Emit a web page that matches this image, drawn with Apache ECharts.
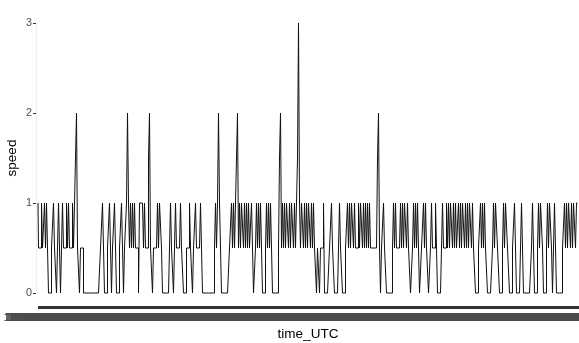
<!DOCTYPE html>
<html>
<head>
<meta charset="utf-8">
<script src="https://cdn.jsdelivr.net/npm/echarts@6/dist/echarts.min.js"></script>
<style>
  html, body { margin: 0; padding: 0; background: #fff; }
  #chart { width: 579px; height: 343px; }
</style>
</head>
<body>
<div id="chart"></div>
<script>
// speed readings left to right (one reading per pixel column)
const speedA = [
  1, 0.5, 0.5, 0.5, 1, 0.5, 0.5, 1, 0.5, 1,
  0.5, 0, 0, 0, 0.5, 0.5, 1, 0.5, 0.5, 0,
  0.5, 1, 0.5, 0, 0.5, 1, 0.5, 0.5, 0.5, 1,
  0.5, 1, 0.5, 0.5, 0.5, 1, 0.5, 0.5, 1.5, 2,
  0.5, 0.5, 0, 0.5, 0.5, 0.5, 0, 0, 0, 0,
  0, 0, 0, 0, 0, 0, 0, 0, 0, 0,
  0, 0, 0, 0.5, 0.5, 1, 0.5, 0, 0, 0,
  0.5, 0.5, 1, 0.5, 0, 0.5, 0.5, 1, 0.5, 0,
  0, 0, 0.5, 0.5, 1, 0.5, 0, 0.5, 0.5, 1,
  2, 1, 0.5, 1, 0.5, 1, 0.5, 1, 0.5, 0.5,
  0.5, 0, 1, 1, 1, 1, 0.5, 1, 0.5, 0.5,
  0.5, 1.5, 2, 0.5, 0.5, 0, 0.5, 0.5, 0.5, 0.5,
  1, 0.5, 1, 1, 0.5, 0, 0, 0, 0, 0,
  0, 0, 0.5, 1, 0.5, 0.5, 0, 0.5, 1, 0.5
];
const speedB = [
  0.5, 0.5, 0.5, 1, 0.5, 0.5, 0, 0, 0, 0.5,
  0.5, 0.5, 1, 0.5, 0.5, 0, 0.5, 0.5, 1, 0.5,
  0.5, 0.5, 0.5, 1, 0.5, 0, 0, 0, 0, 0,
  0, 0, 0, 0, 0, 0, 0, 0.5, 1, 0.5,
  1, 2, 1, 0.5, 0, 0, 0, 0, 0, 0,
  0, 0, 0.5, 0.5, 1, 0.5, 1, 0.5, 0.5, 1.5,
  2, 0.5, 1, 0.5, 1, 1, 0.5, 1, 0.5, 1,
  0.5, 1, 0.5, 0.5, 1, 0.5, 0, 0, 0.5, 1,
  0.5, 1, 0.5, 1, 0.5, 0, 0, 0, 0.5, 1,
  0.5, 1, 0.5, 1, 0.5, 0, 0, 0, 0, 0,
  0, 0.5, 1.5, 2, 0.5, 1, 0.5, 1, 0.5, 1,
  1, 0.5, 1, 0.5, 1, 1, 0.5, 1, 0.5, 1,
  1.5, 3, 1, 0.5, 1, 1, 0.5, 1, 0.5, 1,
  0.5, 1, 1, 0.5, 1, 0.5, 1, 0.5, 0.5, 0
];
const speedC = [
  0.5, 0.5, 0, 0.5, 0.5, 0.5, 1, 0, 0, 0,
  0, 0, 0.5, 0.5, 1, 0.5, 0.5, 0, 0, 0,
  0, 0.5, 1, 0.5, 0.5, 0, 0, 0, 0.5, 0.5,
  1, 0.5, 1, 0.5, 1, 1, 0.5, 1, 0.5, 0.5,
  0.5, 1, 0.5, 1, 1, 0.5, 1, 0.5, 1, 0.5,
  1, 0.5, 1, 0.5, 0.5, 0.5, 0.5, 0.5, 0.5, 0.5,
  1.5, 2, 0.5, 0, 0.5, 0.5, 1, 0.5, 0.5, 0,
  0, 0, 0, 0, 0, 0.5, 1, 0.5, 1, 0.5,
  0.5, 0.5, 0.5, 1, 0.5, 1, 0.5, 1, 1, 0.5,
  1, 0.5, 0.5, 0, 0, 0.5, 1, 0.5, 1, 0.5,
  1, 0.5, 0, 0, 0.5, 0.5, 1, 0.5, 1, 0.5,
  0.5, 0, 0, 0.5, 1, 0.5, 0.5, 0.5, 1, 0.5,
  0, 0, 0, 0, 0.5, 1, 0.5, 0.5, 0.5, 1,
  0.5, 1, 0.5, 1, 1, 0.5, 1, 0.5, 1, 0.5
];
const speedD = [
  0.5, 1, 0.5, 1, 0.5, 1, 1, 0.5, 1, 0.5,
  1, 0.5, 1, 1, 0.5, 1, 0.5, 0.5, 0, 0,
  0, 0.5, 0.5, 1, 0.5, 1, 0.5, 1, 0.5, 0.5,
  0, 0, 0, 0, 0, 0.5, 1, 0.5, 1, 1,
  0.5, 0.5, 0, 0, 0, 0.5, 1, 0.5, 1, 1,
  0.5, 0.5, 0, 0, 0, 0.5, 0.5, 1, 0.5, 0,
  0, 0, 0, 0.5, 1, 0.5, 0, 0, 0, 0,
  0, 0, 0, 0, 0.5, 1, 0.5, 0, 0, 0,
  0.5, 1, 0.5, 1, 1, 0.5, 0, 0, 0, 0.5,
  1, 0.5, 1, 1, 0.5, 0, 0.5, 1, 0.5, 0,
  0, 0, 0, 0, 0, 0.5, 0.5, 1, 0.5, 1,
  0.5, 1, 1, 0.5, 1, 0.5, 1, 1, 0.5, 1,
  1
];
const speed = speedA.concat(speedB, speedC, speedD);

const yTicks = [0, 1, 2, 3];

// time_UTC categories (their labels overlap into a solid band in the original)
const startTime = Date.UTC(2021, 10, 11, 10, 0, 0);
const stepSeconds = 30;
const pad = (n) => String(n).padStart(2, '0');
const timeUTC = speed.map((_, i) => {
  const d = new Date(startTime + i * stepSeconds * 1000);
  return pad(d.getUTCMonth() + 1) + '-' + pad(d.getUTCDate()) + ' ' +
    pad(d.getUTCHours()) + ':' + pad(d.getUTCMinutes()) + ':' + pad(d.getUTCSeconds());
});

const font = 'Liberation Sans, Arial, sans-serif';
const chart = echarts.init(document.getElementById('chart'));
chart.setOption({
  animation: false,
  backgroundColor: '#fff',
  grid: { left: 38, right: 1, top: 23, bottom: 50, outerBoundsMode: 'none' },
  xAxis: {
    type: 'category',
    data: timeUTC,
    boundaryGap: false,
    offset: 13,
    name: 'time_UTC',
    nameLocation: 'middle',
    nameGap: 21,
    nameMoveOverlap: false,
    nameTextStyle: { color: '#000', fontSize: 13.5, fontFamily: font },
    axisLine: { show: false, onZero: false },
    axisTick: { show: true, interval: 0, length: 3, lineStyle: { color: '#333' } },
    axisLabel: { interval: 0, color: '#4d4d4d', fontSize: 10.5, fontFamily: font, margin: 7 },
    splitLine: { show: false }
  },
  yAxis: {
    type: 'value',
    min: yTicks[0],
    max: yTicks[yTicks.length - 1],
    interval: 1,
    offset: 2,
    name: 'speed',
    nameLocation: 'middle',
    nameGap: 17,
    nameMoveOverlap: false,
    nameTextStyle: { color: '#000', fontSize: 13.5, fontFamily: font },
    axisLine: { show: true, lineStyle: { color: '#eeeeee' } },
    axisTick: { show: true, length: 3, lineStyle: { color: '#333' } },
    axisLabel: { color: '#4d4d4d', fontSize: 10.8, fontFamily: font, margin: 4 },
    splitLine: { show: false }
  },
  series: [{
    type: 'line',
    data: speed,
    step: 'middle',
    symbol: 'none',
    clip: false,
    lineStyle: { color: '#111', width: 1 }
  }]
});
</script>
</body>
</html>
